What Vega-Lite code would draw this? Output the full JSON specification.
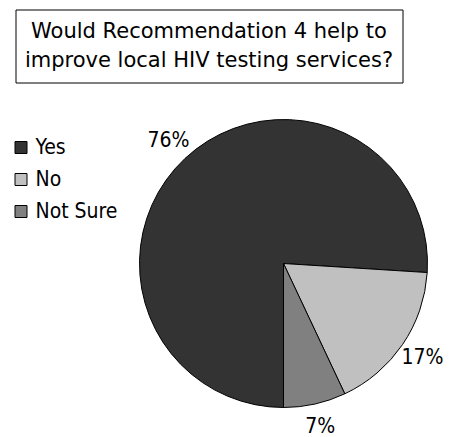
{
  "$schema": "https://vega.github.io/schema/vega-lite/v6.json",
  "padding": {"left": 12.5, "top": 8.5, "right": 0, "bottom": 0},
  "background": "white",
  "config": {"font": "DejaVu Sans Condensed", "view": {"stroke": null}},
  "spacing": 34,
  "datasets": {
    "responses": [
      {"response": "Yes", "percent": 76, "label": "76%", "order": 1},
      {"response": "No", "percent": 17, "label": "17%", "order": 2},
      {"response": "Not Sure", "percent": 7, "label": "7%", "order": 3}
    ]
  },
  "vconcat": [
    {
      "width": 387,
      "height": 73,
      "view": {"stroke": "black", "strokeWidth": 1, "fill": "white"},
      "data": {"values": [{"question": "Would Recommendation 4 help to\nimprove local HIV testing services?"}]},
      "mark": {"type": "text", "lineBreak": "\n", "font": "DejaVu Sans", "fontSize": 21, "lineHeight": 29, "baseline": "middle", "align": "center", "dy": -14.5, "color": "black"},
      "encoding": {"text": {"field": "question"}}
    },
    {
      "spacing": 20,
      "hconcat": [
        {
          "width": 11,
          "height": 120,
          "data": {"name": "responses"},
          "encoding": {
            "y": {"field": "response", "type": "nominal", "sort": ["Yes", "No", "Not Sure"], "scale": {"type": "point", "padding": 0.875}, "axis": null}
          },
          "layer": [
            {
              "mark": {"type": "point", "shape": "square", "size": 144, "filled": true, "opacity": 1, "stroke": "black", "strokeWidth": 1},
              "encoding": {
                "color": {"field": "response", "type": "nominal", "scale": {"domain": ["Yes", "No", "Not Sure"], "range": ["#333333", "#c0c0c0", "#808080"]}, "legend": null}
              }
            },
            {
              "mark": {"type": "text", "align": "left", "baseline": "middle", "dx": 14.5, "fontSize": 21, "color": "black"},
              "encoding": {"text": {"field": "response", "type": "nominal"}}
            }
          ]
        },
        {
          "width": 288,
          "height": 288,
          "data": {"name": "responses"},
          "encoding": {
            "theta": {"field": "percent", "type": "quantitative", "stack": true, "scale": {"range": [3.14159265, 9.42477796]}},
            "order": {"field": "order", "type": "quantitative"}
          },
          "layer": [
            {
              "mark": {"type": "arc", "stroke": "black", "strokeWidth": 1},
              "encoding": {
                "color": {"field": "response", "type": "nominal", "scale": {"domain": ["Yes", "No", "Not Sure"], "range": ["#333333", "#c0c0c0", "#808080"]}, "legend": null}
              }
            },
            {
              "mark": {"type": "text", "radius": 168, "fontSize": 21, "color": "black"},
              "encoding": {
                "detail": {"field": "response", "type": "nominal"},
                "text": {"field": "label", "type": "nominal"}
              }
            }
          ]
        }
      ]
    }
  ]
}
